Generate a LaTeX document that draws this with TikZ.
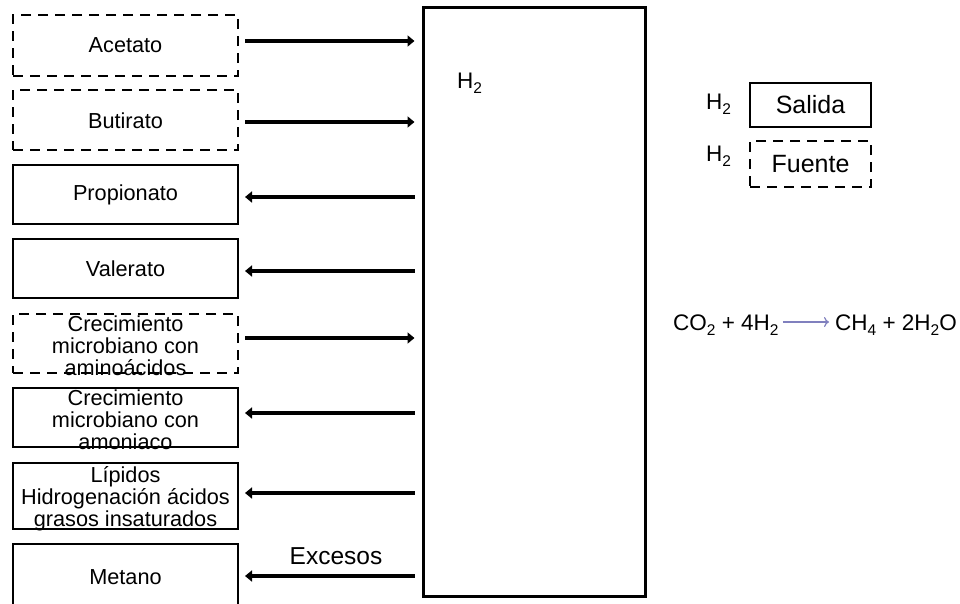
\documentclass[tikz,border=0pt]{standalone}
\usepackage{fontspec}
\setmainfont{Liberation Sans}
\usetikzlibrary{arrows.meta}
\newcommand\lsub[1]{\raisebox{-5pt}{\fontsize{15.5}{15.5}\selectfont #1}}
\begin{document}
\begin{tikzpicture}[x=1pt,y=-1pt,
  boxbase/.style={draw=black,line width=2pt,minimum width=225pt,inner sep=0pt},
  sbox/.style={boxbase},
  dbox/.style={boxbase,dash pattern=on 10pt off 7pt},
  txt/.style={align=center,inner sep=0pt,font=\fontsize{21.7}{22}\selectfont},
  flow/.style={line width=4pt,-{Triangle[length=7pt,width=11pt]},shorten <=6pt,shorten >=7pt},
  back/.style={line width=4pt,-{Triangle[length=7pt,width=11pt]},shorten <=7pt,shorten >=6pt}]
\clip (0,0) rectangle (960,603);
\fill[white] (0,0) rectangle (960,603);
% central H2 pool
\node[draw=black,line width=3pt,minimum width=222pt,minimum height=589pt,inner sep=0pt] (big) at (534,301.5) {};
\node[txt,anchor=base west,font=\fontsize{22.5}{22.5}\selectfont] (h2) at (457,88.5) {H\lsub{2}};
% left boxes
\node[dbox,minimum height=61pt] (ac) at (125.5,45.5) {};
\node[txt] (tac) at (125.5,45) {Acetato};
\node[dbox,minimum height=60pt] (bu) at (125.5,120) {};
\node[txt] (tbu) at (125.5,120.5) {Butirato};
\node[sbox,minimum height=59pt] (pr) at (125.5,194.5) {};
\node[txt] (tpr) at (125.5,195) {Propionato};
\node[sbox,minimum height=59pt] (va) at (125.5,268.5) {};
\node[txt] (tva) at (125.5,269) {Valerato};
\node[dbox,minimum height=59pt] (am) at (125.5,343.5) {};
\node[txt] (tam) at (125.5,346) {Crecimiento\\microbiano con\\aminoácidos};
\node[sbox,minimum height=59pt] (an) at (125.5,417.5) {};
\node[txt] (tan) at (125.5,420) {Crecimiento\\microbiano con\\amoniaco};
\node[sbox,minimum height=66pt] (li) at (125.5,496) {};
\node[txt] (tli) at (125.5,498.5) {Lípidos\\Hidrogenación ácidos\\grasos insaturados};
\node[sbox,minimum height=66pt] (me) at (125.5,577) {};
\node[txt] (tme) at (125.5,577) {Metano};
% arrows
\draw[flow] (ac.east |- 0,41) -- (big.west |- 0,41);
\draw[flow] (bu.east |- 0,122) -- (big.west |- 0,122);
\draw[back] (big.west |- 0,197) -- (pr.east |- 0,197);
\draw[back] (big.west |- 0,271) -- (va.east |- 0,271);
\draw[flow] (am.east |- 0,338) -- (big.west |- 0,338);
\draw[back] (big.west |- 0,413) -- (an.east |- 0,413);
\draw[back] (big.west |- 0,493) -- (li.east |- 0,493);
\draw[back] (big.west |- 0,576) -- (me.east |- 0,576);
\node[txt,font=\fontsize{24.5}{24.5}\selectfont] (exc) at (336,556) {Excesos};
% legend
\node[txt,anchor=base west,font=\fontsize{22.5}{22.5}\selectfont] (lh1) at (706,109) {H\lsub{2}};
\node[draw=black,line width=2pt,minimum width=121pt,minimum height=44pt,inner sep=0pt] (sal) at (810.5,105) {};
\node[txt,font=\fontsize{25}{25}\selectfont] (tsal) at (810.5,105) {Salida};
\node[txt,anchor=base west,font=\fontsize{22.5}{22.5}\selectfont] (lh2) at (706,161) {H\lsub{2}};
\node[draw=black,line width=2pt,dash pattern=on 10pt off 7pt,minimum width=121pt,minimum height=46pt,inner sep=0pt] (fu) at (810.5,164) {};
\node[txt,font=\fontsize{25}{25}\selectfont] (tfu) at (810.5,164) {Fuente};
% equation
\node[txt,anchor=base west,font=\fontsize{22.5}{22.5}\selectfont] (eqL) at (673,330) {CO\lsub{2} + 4H\lsub{2}};
\node[txt,anchor=base west,font=\fontsize{22.5}{22.5}\selectfont] (eqR) at (835,330) {CH\lsub{4} + 2H\lsub{2}O};
\draw[line width=1.2pt,color={rgb,255:red,128;green,128;blue,190},-{To[length=5pt,width=10pt]},shorten <=4pt,shorten >=6pt] (eqL.east |- 0,322) -- (eqR.west |- 0,322);
\end{tikzpicture}
\end{document}
